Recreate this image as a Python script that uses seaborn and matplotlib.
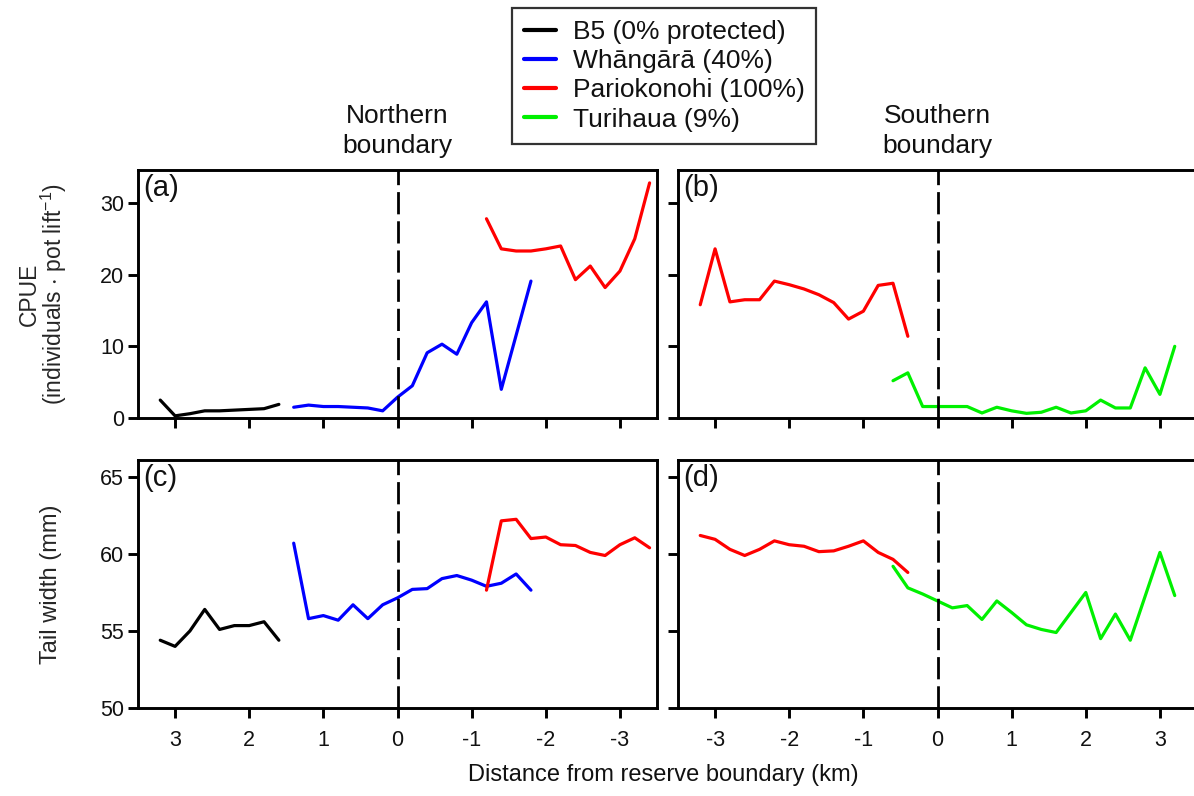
import numpy as np
import pandas as pd
import seaborn as sns
import matplotlib.pyplot as plt

# data: distance (km) vs CPUE / tail width
b5_x = [3.2, 3.0, 2.8, 2.6, 2.4, 2.2, 2.0, 1.8, 1.6]
b5_cpue = [2.5, 0.3, 0.6, 1.0, 1.0, 1.1, 1.2, 1.3, 1.9]
b5_tail = [54.4, 54.0, 55.0, 56.4, 55.1, 55.35, 55.35, 55.6, 54.4]

wh_x = [1.4, 1.2, 1.0, 0.8, 0.6, 0.4, 0.2, 0.0, -0.2, -0.4, -0.6, -0.8, -1.0, -1.2, -1.4, -1.8]
wh_cpue = [1.5, 1.8, 1.6, 1.6, 1.5, 1.4, 1.0, 2.9, 4.5, 9.1, 10.3, 8.9, 13.3, 16.2, 4.0, 19.1]
wh_tail_x = [1.4, 1.2, 1.0, 0.8, 0.6, 0.4, 0.2, 0.0, -0.2, -0.4, -0.6, -0.8, -1.0, -1.2, -1.4, -1.6, -1.8]
wh_tail = [60.7, 55.8, 56.0, 55.7, 56.7, 55.8, 56.7, 57.15, 57.7, 57.75, 58.4, 58.6, 58.3, 57.9, 58.1, 58.7, 57.65]

pn_x = [-1.2, -1.4, -1.6, -1.8, -2.0, -2.2, -2.4, -2.6, -2.8, -3.0, -3.2, -3.4]
pn_cpue = [27.8, 23.6, 23.3, 23.3, 23.6, 24.0, 19.3, 21.2, 18.2, 20.5, 25.0, 32.8]
pn_tail = [57.65, 62.15, 62.25, 61.0, 61.1, 60.6, 60.55, 60.1, 59.9, 60.6, 61.05, 60.4]

ps_x = [-3.2, -3.0, -2.8, -2.6, -2.4, -2.2, -2.0, -1.8, -1.6, -1.4, -1.2, -1.0, -0.8, -0.6, -0.4]
ps_cpue = [15.8, 23.6, 16.2, 16.5, 16.5, 19.1, 18.6, 18.0, 17.2, 16.1, 13.8, 14.9, 18.5, 18.8, 11.4]
ps_tail = [61.2, 60.95, 60.3, 59.9, 60.3, 60.85, 60.6, 60.5, 60.15, 60.2, 60.5, 60.85, 60.1, 59.65, 58.8]

tu_x = [-0.6, -0.4, -0.2, 0.0, 0.2, 0.4, 0.6, 0.8, 1.0, 1.2, 1.4, 1.6, 1.8, 2.0, 2.2, 2.4, 2.6, 2.8, 3.0, 3.2]
tu_cpue = [5.2, 6.3, 1.6, 1.6, 1.6, 1.6, 0.7, 1.5, 1.0, 0.65, 0.8, 1.5, 0.7, 1.0, 2.5, 1.4, 1.4, 7.0, 3.3, 10.0]
tu_tail_x = [-0.6, -0.4, -0.2, 0.0, 0.2, 0.4, 0.6, 0.8, 1.0, 1.2, 1.4, 1.6, 1.8, 2.0, 2.2, 2.4, 2.6, 3.0, 3.2]
tu_tail = [59.2, 57.8, 57.4, 56.95, 56.5, 56.65, 55.75, 56.95, 56.2, 55.4, 55.1, 54.9, 56.2, 57.5, 54.5, 56.1, 54.4, 60.1, 57.3]

names = ['B5 (0% protected)', 'Whāngārā (40%)', 'Pariokonohi (100%)', 'Turihaua (9%)']
colors = ['black', '#0000ff', '#ff0000', '#00f000']

sns.set_style('ticks')
plt.rcParams['font.family'] = ['Liberation Sans', 'DejaVu Sans']
plt.rcParams['mathtext.default'] = 'regular'
plt.rcParams['axes.unicode_minus'] = False
plt.rcParams['text.color'] = '#111111'

W, H = 1194, 796
fig = plt.figure(figsize=(W / 100, H / 100), dpi=100)


def box(l, r, t, b):
    return [l / W, 1 - b / H, (r - l) / W, (b - t) / H]


ax_a = fig.add_axes(box(138, 657, 170, 418))
ax_b = fig.add_axes(box(678, 1197, 170, 418))
ax_c = fig.add_axes(box(138, 657, 460, 708))
ax_d = fig.add_axes(box(678, 1197, 460, 708))


def draw(ax, x, y, c):
    df = pd.DataFrame({'x': x, 'y': y})
    sns.lineplot(data=df, x='x', y='y', ax=ax, color=c, lw=2.3,
                 estimator=None, sort=False, legend=False)


draw(ax_a, b5_x, b5_cpue, colors[0])
draw(ax_a, wh_x, wh_cpue, colors[1])
draw(ax_a, pn_x, pn_cpue, colors[2])
draw(ax_b, ps_x, ps_cpue, colors[2])
draw(ax_b, tu_x, tu_cpue, colors[3])
draw(ax_c, b5_x, b5_tail, colors[0])
draw(ax_c, wh_tail_x, wh_tail, colors[1])
draw(ax_c, pn_x, pn_tail, colors[2])
draw(ax_d, ps_x, ps_tail, colors[2])
draw(ax_d, tu_tail_x, tu_tail, colors[3])

for ax, lab in zip([ax_a, ax_b, ax_c, ax_d], ['(a)', '(b)', '(c)', '(d)']):
    ax.axvline(0, color='black', lw=2, ls=(0, (8, 2.5)))
    for s in ax.spines.values():
        s.set_linewidth(2.1)
        s.set_visible(True)
        s.set_color('black')
    ax.tick_params(direction='out', length=7, width=2.1, labelsize=15.5, colors='black',
                   labelcolor='#111111')
    ax.tick_params(axis='x', pad=9)
    ax.tick_params(axis='y', pad=3)
    ax.set_xlabel('')
    ax.set_ylabel('')
    ax.text(0.01, 0.985, lab, transform=ax.transAxes, fontsize=21, va='top', ha='left')

for ax in [ax_a, ax_c]:
    ax.set_xlim(3.5, -3.5)
for ax in [ax_b, ax_d]:
    ax.set_xlim(-3.5, 3.5)
for ax in [ax_a, ax_b, ax_c, ax_d]:
    ax.set_xticks([-3, -2, -1, 0, 1, 2, 3])

for ax in [ax_a, ax_b]:
    ax.set_ylim(0, 34.6)
    ax.set_yticks([0, 10, 20, 30])
    ax.tick_params(labelbottom=False)
for ax in [ax_c, ax_d]:
    ax.set_ylim(50, 66.1)
    ax.set_yticks([50, 55, 60, 65])
for ax in [ax_b, ax_d]:
    ax.tick_params(labelleft=False)

ax_a.set_ylabel('CPUE\n(individuals $\\cdot$ pot lift$^{-1}$)', fontsize=16.5, labelpad=22,
                linespacing=0.95)
ax_c.set_ylabel('Tail width (mm)', fontsize=17, labelpad=27)

fig.text(663 / W, 1 - 775 / H, 'Distance from reserve boundary (km)', ha='center', va='center',
         fontsize=17)
fig.text(397 / W, 1 - 131 / H, 'Northern\nboundary', ha='center', va='center', fontsize=19,
         linespacing=1.3)
fig.text(937 / W, 1 - 131 / H, 'Southern\nboundary', ha='center', va='center', fontsize=19,
         linespacing=1.3)

handles = [plt.Line2D([], [], color=c, lw=3) for c in colors]
leg = fig.legend(handles, names, loc='upper left', bbox_to_anchor=(512 / W, 1 - 8 / H),
                 borderaxespad=0, fontsize=19, frameon=True, fancybox=False,
                 handlelength=1.2, handletextpad=0.65, borderpad=0.45, labelspacing=0.2)
leg.get_frame().set_edgecolor('black')
leg.get_frame().set_linewidth(1.6)

fig.savefig('out.png', dpi=100)
